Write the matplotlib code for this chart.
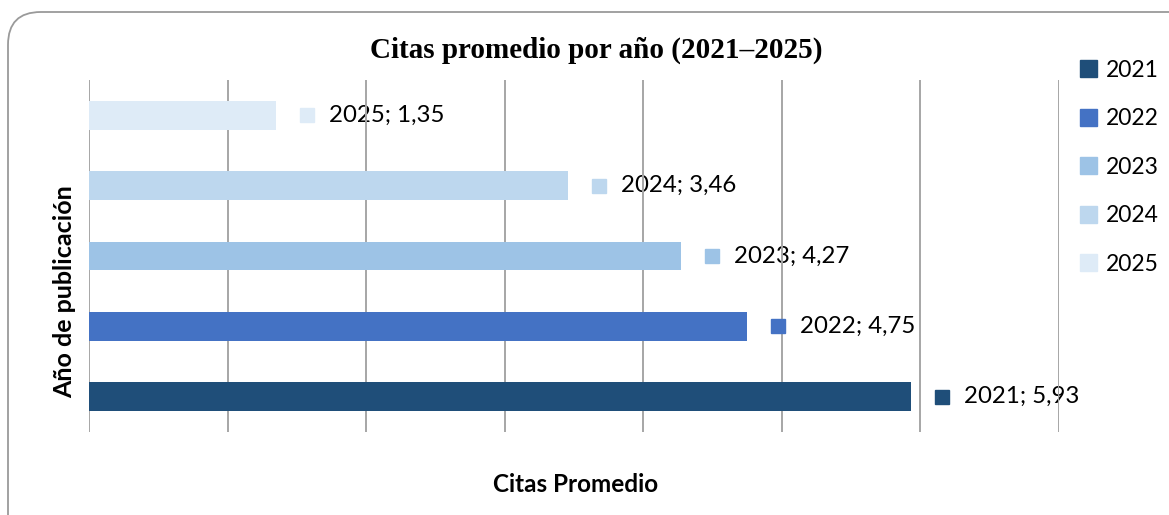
import matplotlib
matplotlib.use("Agg")
import matplotlib.pyplot as plt
from matplotlib.patches import FancyBboxPatch, Patch
from matplotlib.transforms import offset_copy

years = ["2021", "2022", "2023", "2024", "2025"]
citas = [5.93, 4.75, 4.27, 3.46, 1.35]
labels = ["2021; 5,93", "2022; 4,75", "2023; 4,27", "2024; 3,46", "2025; 1,35"]
colors = ["#1F4E79", "#4472C4", "#9DC3E6", "#BDD7EE", "#DEEBF7"]

SANS = ["Lato", "DejaVu Sans"]

fig = plt.figure(figsize=(11.69, 5.15), dpi=100)
ax = fig.add_axes([89 / 1169, 1 - 432 / 515, (1059 - 89) / 1169, (432 - 80) / 515])

# rounded frame around the chart area
frame = FancyBboxPatch((8 / 1169, -0.2), 1.2, 1 - 12 / 515 + 0.2,
                       boxstyle="round,pad=0,rounding_size=0.028",
                       transform=fig.transFigure, fc="none", ec="#9a9a9a", lw=1.3,
                       mutation_aspect=1169 / 515)
fig.patches.append(frame)

ypos = list(range(len(years)))
ax.barh(ypos, citas, height=0.41, color=colors, zorder=3)

for x in range(0, 8):
    ax.axvline(x, color="#a6a6a6", lw=1.4, zorder=2.5)

sq = offset_copy(ax.transData, fig=fig, x=31, y=0, units="dots")
for i, (v, lab, c) in enumerate(zip(citas, labels, colors)):
    ax.plot(v, i, marker="s", ms=10.5, color=c, transform=sq, zorder=3, clip_on=False)
    ax.annotate(lab, (v, i), xytext=(53 * 0.72, 0), textcoords="offset points",
                va="center", ha="left", fontsize=17.3, family=SANS, zorder=2,
                annotation_clip=False)

ax.set_xlim(0, 7)
ax.set_ylim(-0.5, 4.5)
ax.set_xticks([])
ax.set_yticks([])
for s in ax.spines.values():
    s.set_visible(False)

fig.text(596 / 1169, 1 - 50 / 515, "Citas promedio por año (2021–2025)",
         ha="center", va="center", fontsize=21, fontweight="bold",
         family=["Liberation Serif", "DejaVu Serif"])
fig.text(65 / 1169, 1 - 292 / 515, "Año de publicación", rotation=90,
         ha="center", va="center", fontsize=18, fontweight="bold", family=SANS)
fig.text(576 / 1169, 1 - 485 / 515, "Citas Promedio",
         ha="center", va="center", fontsize=17.5, fontweight="bold", family=SANS)

handles = [Patch(color=c) for c in colors]
fig.legend(handles, years, loc="upper left", bbox_to_anchor=(1059 / 1169, 1 - 39 / 515),
           frameon=False, prop={"family": SANS, "size": 16.5},
           handlelength=0.75, handleheight=0.75, handletextpad=0.4, labelspacing=1.2)

fig.savefig("out.png", dpi=100)
